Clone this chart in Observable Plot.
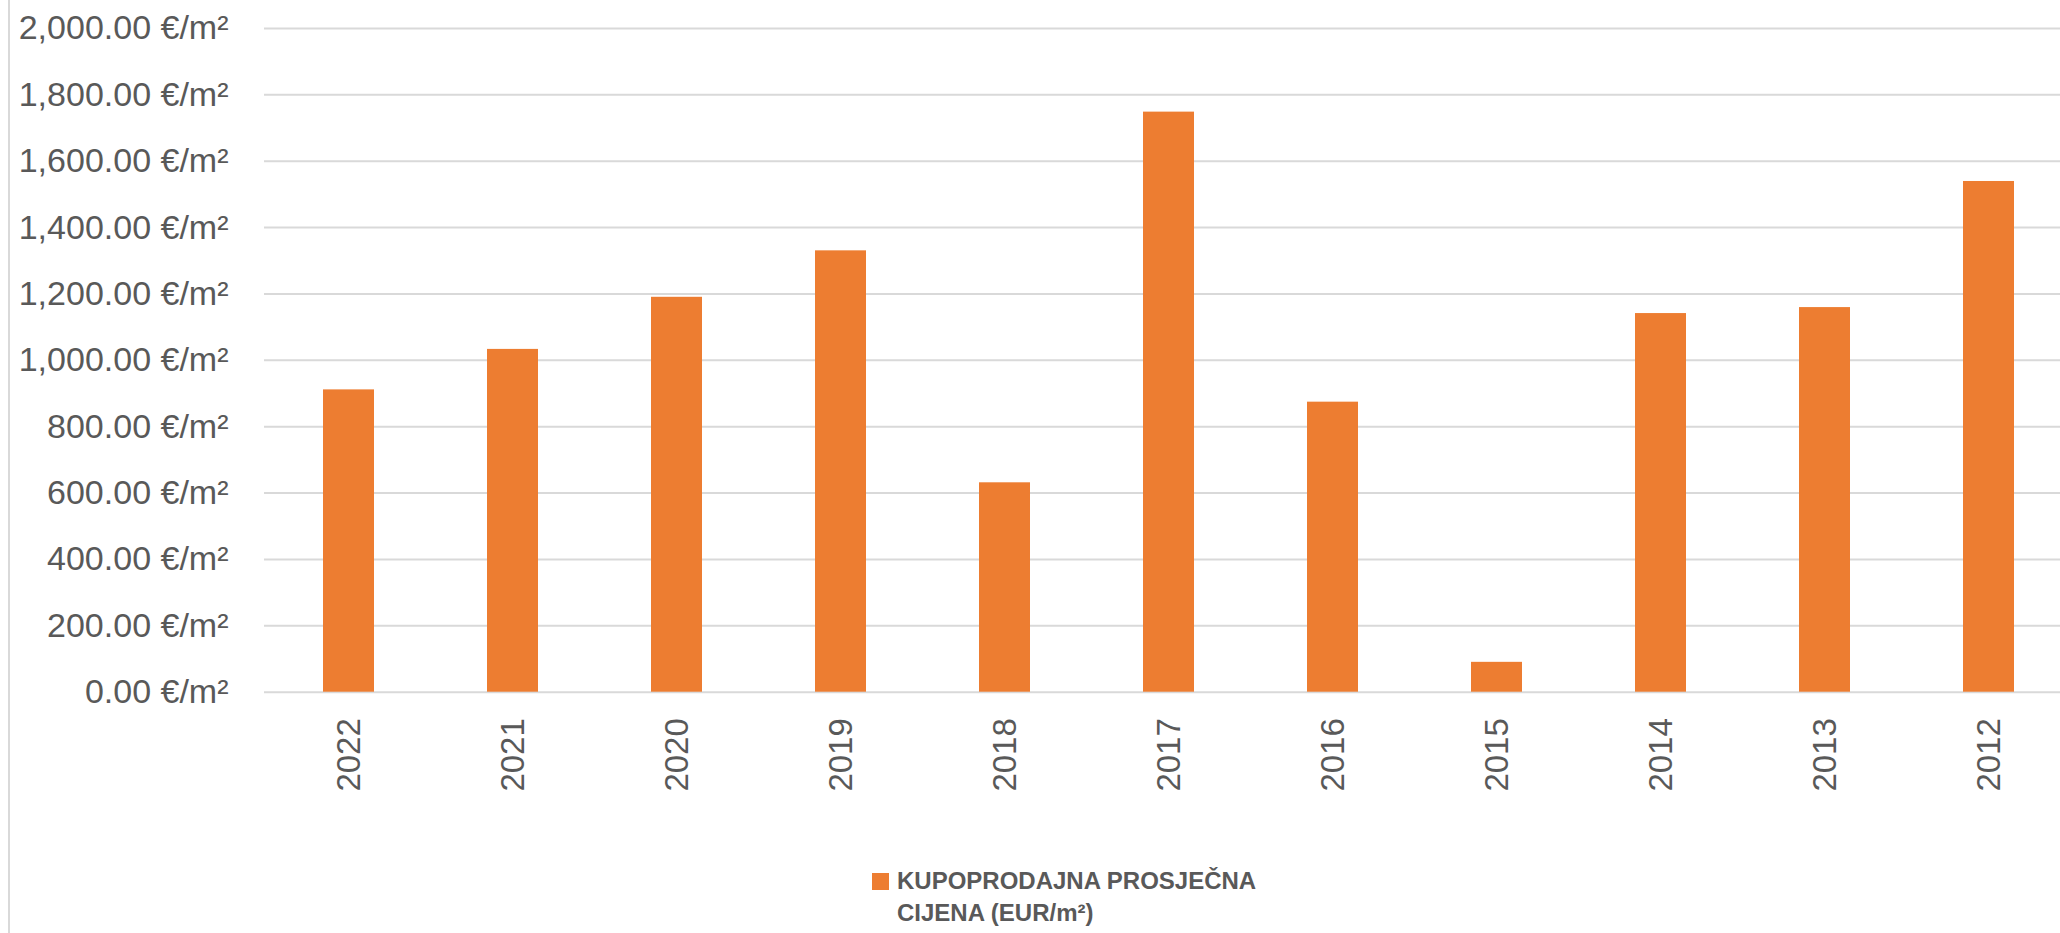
<!DOCTYPE html>
<html>
<head>
<meta charset="utf-8">
<script src="https://cdn.jsdelivr.net/npm/d3@7"></script>
<script src="https://cdn.jsdelivr.net/npm/@observablehq/plot@0.6"></script>
<style>
  html, body { margin: 0; padding: 0; background: #fff; overflow: hidden; width: 2060px; height: 933px; }
  #wrap { position: relative; width: 2060px; height: 933px; }
  #frame { position: absolute; left: 8px; top: 0; width: 2px; height: 933px; background: #d9d9d9; }
  #legend { position: absolute; left: 872px; top: 865px; font-family: "Liberation Sans", Arial, sans-serif; font-weight: bold; font-size: 24px; line-height: 32px; color: #595959; }
  #legend .sw { position: absolute; left: 0; top: 8px; width: 17px; height: 17px; background: #ED7D31; }
  #legend .tx { position: absolute; left: 25px; top: 0; white-space: nowrap; }
  #chart svg { display: block; }
</style>
</head>
<body>
<div id="wrap">
  <div id="chart"></div>
  <div id="frame"></div>
  <div id="legend"><div class="sw"></div><div class="tx">KUPOPRODAJNA PROSJEČNA<br>CIJENA (EUR/m²)</div></div>
</div>
<script>
const years = ["2022", "2021", "2020", "2019", "2018", "2017", "2016", "2015", "2014", "2013", "2012"];
const prices = [911, 1033, 1190, 1330, 631, 1748, 874, 90, 1141, 1159, 1539];
const yTicks = [0, 200, 400, 600, 800, 1000, 1200, 1400, 1600, 1800, 2000];
const seriesName = "KUPOPRODAJNA PROSJEČNA CIJENA (EUR/m²)";

const data = years.map((y, i) => ({year: y, price: prices[i]}));
const fmt = d3.format(",.2f");

const chart = Plot.plot({
  width: 2060,
  height: 820,
  marginLeft: 264,
  marginRight: -12,
  marginTop: 28,
  marginBottom: 128.3,
  style: {fontFamily: "Liberation Sans, Arial, sans-serif", color: "#595959", background: "white", maxWidth: "none"},
  x: {domain: years, paddingInner: 0.69, paddingOuter: 0.345, label: null},
  y: {domain: [0, 2000], label: null},
  marks: [
    Plot.gridY(yTicks, {stroke: "#d9d9d9", strokeWidth: 2, strokeOpacity: 1}),
    Plot.barY(data, {x: "year", y: "price", fill: "#ED7D31", title: d => `${seriesName}: ${d.year}`}),
    Plot.axisY(yTicks, {tickSize: 0, tickPadding: 36, fontSize: 34, fill: "#595959", tickFormat: d => fmt(d) + " €/m²", label: null}),
    Plot.axisX({tickSize: 0, tickPadding: 26, tickRotate: -90, fontSize: 33, fill: "#595959", label: null})
  ]
});
document.getElementById("chart").appendChild(chart);
</script>
</body>
</html>
